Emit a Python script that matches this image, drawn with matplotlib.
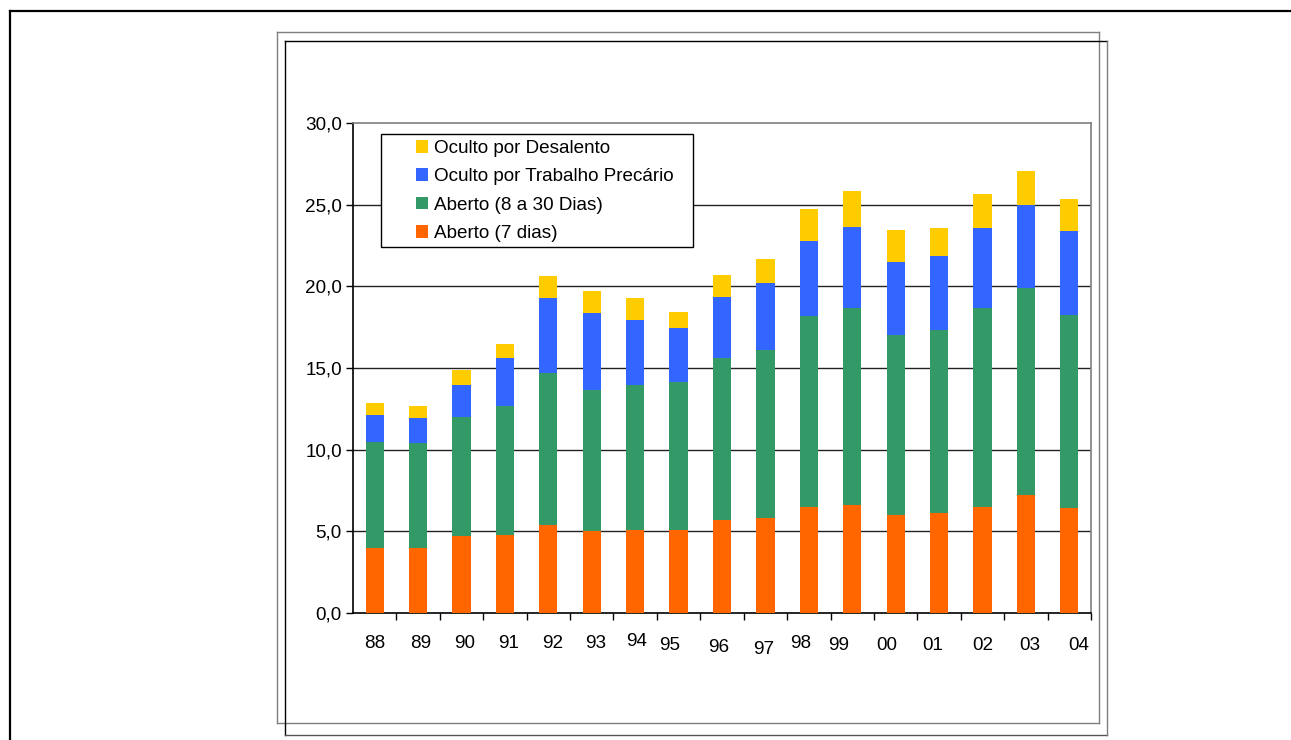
import matplotlib
matplotlib.use("Agg")
import matplotlib.pyplot as plt
from matplotlib.patches import Rectangle, Patch
from matplotlib.lines import Line2D
import numpy as np

plt.rcParams['font.family'] = ['Liberation Sans', 'DejaVu Sans']

years = ["88", "89", "90", "91", "92", "93", "94", "95", "96",
         "97", "98", "99", "00", "01", "02", "03", "04"]
aberto_7 = [4.0, 4.0, 4.7, 4.8, 5.4, 5.0, 5.1, 5.1, 5.7,
            5.8, 6.5, 6.6, 6.0, 6.1, 6.5, 7.2, 6.45]
aberto_8_30 = [6.5, 6.4, 7.3, 7.9, 9.3, 8.65, 8.85, 9.05, 9.9,
               10.3, 11.7, 12.1, 11.0, 11.2, 12.2, 12.7, 11.8]
oculto_precario = [1.6, 1.55, 1.95, 2.9, 4.6, 4.7, 4.0, 3.3, 3.75,
                   4.1, 4.6, 4.95, 4.5, 4.55, 4.87, 5.1, 5.15]
oculto_desalento = [0.75, 0.75, 0.9, 0.9, 1.35, 1.35, 1.35, 1.0, 1.35,
                    1.5, 1.95, 2.2, 1.95, 1.7, 2.1, 2.07, 1.95]
series_names = ["Aberto (7 dias)", "Aberto (8 a 30 Dias)",
                "Oculto por Trabalho Precário", "Oculto por Desalento"]
y_ticks = [0, 5, 10, 15, 20, 25, 30]

colors = ["#FF6600", "#339966", "#3366FF", "#FFCC00"]
# small per-label pixel offsets (style only) mimicking the reference placement
label_dx = [0, 3, 3, 4, 4, 4, 1, -9, -3, -2, -8, -14, -9, -6, 0, 4, 9]
label_dy = [0, 0, 1, 1, 0, 1, 2, -1, -4, -5, 0, -1, -1, -1, -1, -1, -1]

FS = 13.6
W, H = 1291, 740
fig = plt.figure(figsize=(W / 100, H / 100), dpi=100)
fig.patch.set_facecolor("white")

# decorative frames
fig.add_artist(Line2D([10 / W, 1.0], [1 - 11 / H] * 2, color="black", lw=1.6))
fig.add_artist(Line2D([10 / W] * 2, [1 - 11 / H, 0], color="black", lw=1.6))
gx0, gy0, gx1, gy1 = 277, 32, 1099, 723
for xs, ys in [([gx0, gx1], [gy0, gy0]), ([gx0, gx1], [gy1, gy1]),
               ([gx0, gx0], [gy0, gy1]), ([gx1, gx1], [gy0, gy1])]:
    fig.add_artist(Line2D([v / W for v in xs], [1 - v / H for v in ys],
                          color="#7f7f7f", lw=1.0))
bx0, by0, bx1, by1 = 285, 41, 1107, 735
fig.add_artist(Line2D([bx0 / W, bx1 / W], [1 - by0 / H] * 2, color="black", lw=1.0))
fig.add_artist(Line2D([bx0 / W] * 2, [1 - by0 / H, 1 - by1 / H], color="black", lw=1.0))
fig.add_artist(Line2D([bx0 / W, bx1 / W], [1 - by1 / H] * 2, color="#555555", lw=1.0))
fig.add_artist(Line2D([bx1 / W] * 2, [1 - by0 / H, 1 - by1 / H], color="#7f7f7f", lw=1.0))

ax_l, ax_r, ax_t, ax_b = 353, 1091, 123, 613
ax = fig.add_axes([ax_l / W, 1 - ax_b / H, (ax_r - ax_l) / W, (ax_b - ax_t) / H])

x = np.arange(len(years))
bottom = np.zeros(len(years))
handles = []
for vals, name, col in zip([aberto_7, aberto_8_30, oculto_precario, oculto_desalento],
                           series_names, colors):
    ax.bar(x, vals, width=0.42, bottom=bottom, color=col, zorder=3, linewidth=0)
    bottom = bottom + np.array(vals)
    handles.append(Patch(facecolor=col, edgecolor="none", label=name))

ax.set_xlim(-0.5, len(years) - 0.5)
ax.set_ylim(0, 30)
ax.set_yticks(y_ticks)
ax.set_yticklabels([f"{v:.1f}".replace(".", ",") for v in y_ticks], fontsize=FS)
ax.tick_params(axis="y", length=5, width=1, pad=3, direction="out", color="black")
for v in y_ticks[1:-1]:
    ax.axhline(v, color="#222222", lw=1.0, zorder=1)

ax.set_xticks(x)
ax.set_xticklabels([])
ax.tick_params(axis="x", which="major", length=0)
ax.set_xticks(np.arange(0.5, len(years), 1.0), minor=True)
ax.tick_params(axis="x", which="minor", length=5, width=1, direction="out", color="black")

for i, lab in enumerate(years):
    ax.annotate(lab, xy=(i, 0), xycoords=ax.get_xaxis_transform(),
                xytext=(label_dx[i], -31 + label_dy[i]), textcoords="offset pixels",
                ha="center", va="center", fontsize=FS)

ax.spines["left"].set_color("black")
ax.spines["bottom"].set_color("black")
ax.spines["top"].set_color("#7f7f7f")
ax.spines["right"].set_color("#7f7f7f")
for s in ax.spines.values():
    s.set_linewidth(1.2)

# legend box
lx0, ly0, lx1, ly1 = 381, 134, 693, 247
rect = Rectangle(((lx0 - ax_l) / (ax_r - ax_l), (ax_b - ly1) / (ax_b - ax_t)),
                 (lx1 - lx0) / (ax_r - ax_l), (ly1 - ly0) / (ax_b - ax_t),
                 transform=ax.transAxes, facecolor="white", edgecolor="black",
                 lw=1.0, zorder=4)
ax.add_patch(rect)
leg = ax.legend(handles=handles[::-1], loc="upper left",
                bbox_to_anchor=((416 - ax_l) / (ax_r - ax_l), (ax_b - 140) / (ax_b - ax_t)),
                frameon=False, fontsize=FS, handlelength=0.65, handleheight=0.65,
                handletextpad=0.3, labelspacing=0.6, borderpad=0, borderaxespad=0)
leg.set_zorder(5)

fig.savefig("out.png", dpi=100, facecolor="white")
